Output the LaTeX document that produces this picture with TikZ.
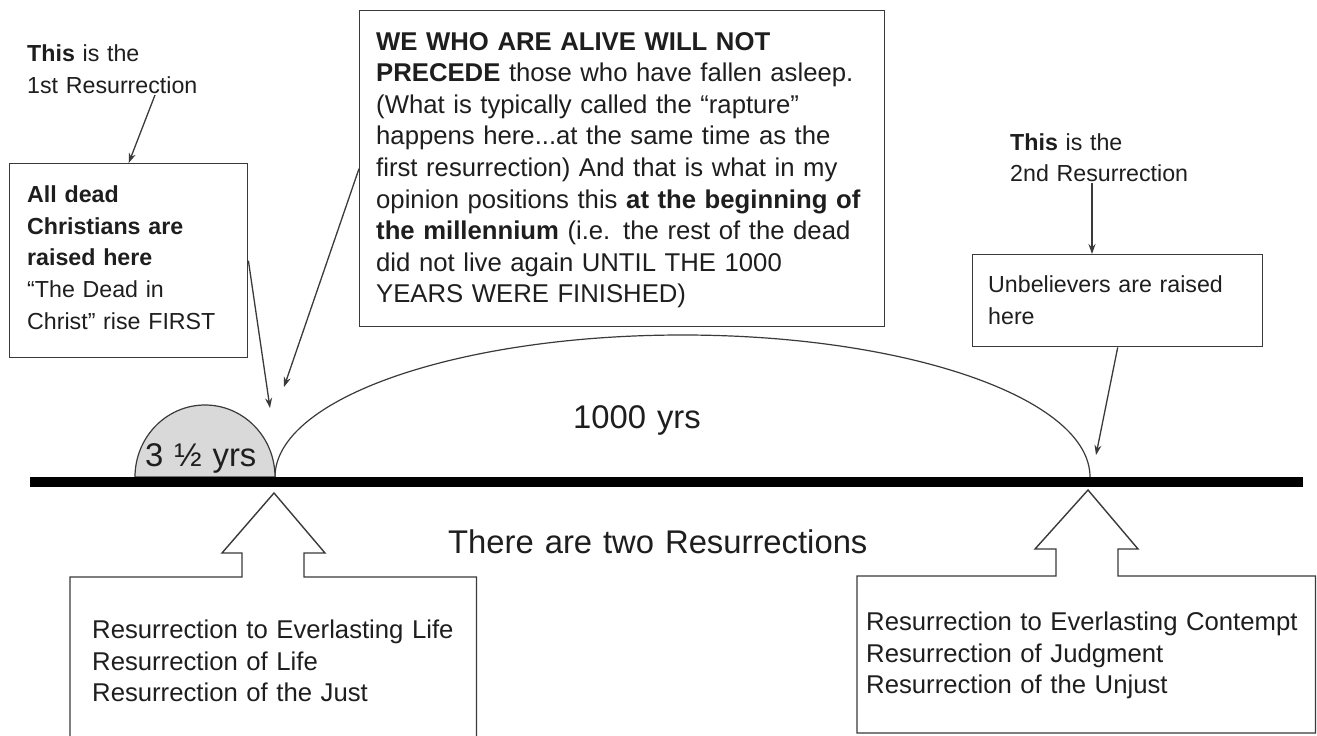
\documentclass[tikz,border=0pt]{standalone}
\usepackage{fontspec}
\setmainfont{Liberation Sans}
\usetikzlibrary{arrows.meta}
\newcommand\fsA{\fontsize{23.2}{31.7}\selectfont}
\newcommand\fsB{\fontsize{25.7}{31.6}\selectfont}
\newcommand\fsC{\fontsize{32.8}{38}\selectfont}
\definecolor{ink}{HTML}{1E1E1E}
\definecolor{edge}{HTML}{3A3A3A}
\definecolor{semi}{HTML}{D9D9D9}
\begin{document}
\begin{tikzpicture}[x=1pt,y=-1pt,
  txt/.style={anchor=base west, inner sep=0pt, text width=#1, align=left, text=ink},
  frame/.style={draw=edge, line width=1.4pt, fill=white, inner sep=0pt, anchor=north west},
  arr/.style={draw=edge, line width=1.3pt, -{Stealth[length=10pt,width=7pt]}},
  callout/.style={draw=edge, line width=1.4pt, fill=white},
  curve/.style={draw=edge, line width=1.2pt}
]
\useasboundingbox (0,0) rectangle (1317,736);
\clip (0,0) rectangle (1317,736);
\fill[white] (0,0) rectangle (1317,736);

% periods above the timeline
\draw[curve] (1090,477) arc[start angle=0,end angle=180,x radius=407.5pt,y radius=142pt];
\draw[curve, fill=semi] (275,477) arc[start angle=0,end angle=180,x radius=70pt,y radius=72pt] -- cycle;
\node[txt=200pt, font=\fsC] (half) at (145,466) {3 ½ yrs};
\node[txt=200pt, font=\fsC] (mil) at (573,428) {1000 yrs};

% timeline
\coordinate (tlA) at (30,482);
\coordinate (tlB) at (1303,482);
\draw[line width=10.5pt, black] (tlA) -- (tlB);

% first resurrection notes
\node[txt=250pt, font=\fsA] (l1) at (27,61.5) {\textbf{This} is the\\1st Resurrection};
\node[frame, minimum width=238pt, minimum height=194pt] (b1) at (9,163) {};
\node[txt=230pt, font=\fsA] (t1) at (27,202.5) {\textbf{All dead}\\\textbf{Christians are}\\\textbf{raised here}\\“The Dead in\\Christ” rise FIRST};
\coordinate (l1s) at (155,95);
\draw[arr] (l1s) -- (b1.north);
\coordinate (p1) at (270,408);
\draw[arr] (b1.east) -- (p1);

\node[frame, minimum width=525pt, minimum height=316pt] (b2) at (359,10) {};
\node[txt=520pt, font=\fsB] (t2) at (376,50) {\textbf{WE WHO ARE ALIVE WILL NOT}\\\textbf{PRECEDE} those who have fallen asleep.\\(What is typically called the “rapture”\\happens here...at the same time as the\\first resurrection) And that is what in my\\opinion positions this \textbf{at the beginning of}\\\textbf{the millennium} (i.e. the rest of the dead\\did not live again UNTIL THE 1000\\YEARS WERE FINISHED)};
\coordinate (p2) at (284,387);
\draw[arr] (b2.west) -- (p2);

% second resurrection notes
\node[txt=250pt, font=\fsA] (l2) at (1010,150) {\textbf{This} is the\\2nd Resurrection};
\node[frame, minimum width=290pt, minimum height=92pt] (b3) at (972,254) {};
\node[txt=280pt, font=\fsA] (t3) at (988,292.7) {Unbelievers are raised\\here};
\coordinate (l2s) at (1092,183);
\draw[arr] (l2s) -- (l2s |- b3.north);
\coordinate (p3) at (1096,455);
\draw[arr] (b3.south) -- (p3);

% caption
\node[txt=500pt, font=\fsC] (cap) at (448,553) {There are two Resurrections};

% bottom callouts
\draw[callout] (70,745) -- (70,577) -- (242,577) -- (242,553) -- (222,553) -- (274,493) -- (325,553) -- (304,553) -- (304,577) -- (476.5,577) -- (476.5,745) -- cycle;
\node[txt=400pt, font=\fsB] (c1) at (92,638.5) {Resurrection to Everlasting Life\\Resurrection of Life\\Resurrection of the Just};

\draw[callout] (857,733) -- (857,576) -- (1056,576) -- (1056,549) -- (1035,549) -- (1088,490) -- (1138,549) -- (1118,549) -- (1118,576) -- (1315.5,576) -- (1315.5,733) -- cycle;
\node[txt=450pt, font=\fsB] (c2) at (866,630.7) {Resurrection to Everlasting Contempt\\Resurrection of Judgment\\Resurrection of the Unjust};
\end{tikzpicture}
\end{document}
